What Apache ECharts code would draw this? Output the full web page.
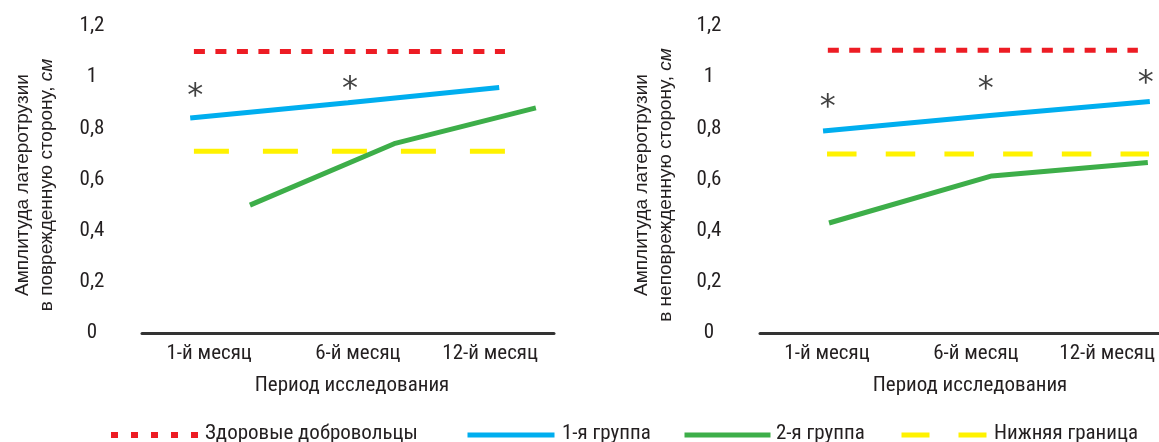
<!DOCTYPE html>
<html>
<head>
<meta charset="utf-8">
<script src="https://cdn.jsdelivr.net/npm/echarts@6/dist/echarts.min.js"></script>
<style>
html,body{margin:0;padding:0;background:#fff;}
#c{width:1159px;height:442px;}
</style>
</head>
<body>
<div id="c"></div>
<script>
// ---- data ----
const categories = ['1-й месяц', '6-й месяц', '12-й месяц'];
const catPosLeft = [16.3, 52.4, 84.5];
const catPosRight = [16.8, 54.1, 87.0];
const seriesNames = ['Здоровые добровольцы', '1-я группа', '2-я группа', 'Нижняя граница'];

const leftHealthyX = [12.6, 88.1];
const leftHealthyY = [1.1, 1.1];
const leftLowerX = [12.6, 88.1];
const leftLowerY = [0.71, 0.71];
const leftGroup1X = [11.7, 50, 86.7];
const leftGroup1Y = [0.84, 0.9, 0.96];
const leftGroup2X = [26.2, 61.2, 95.6];
const leftGroup2Y = [0.5, 0.74, 0.88];
const leftStarX = [12.9, 50.5];
const leftStarY = [0.95, 0.98];

const rightHealthyX = [17.0, 94.7];
const rightHealthyY = [1.105, 1.105];
const rightLowerX = [16.8, 97.5];
const rightLowerY = [0.7, 0.7];
const rightGroup1X = [15.8, 57.6, 97.7];
const rightGroup1Y = [0.79, 0.85, 0.905];
const rightGroup2X = [17.3, 58.1, 97.2];
const rightGroup2Y = [0.43, 0.614, 0.666];
const rightStarX = [17.0, 56.6, 96.7];
const rightStarY = [0.91, 0.98, 1.0];

// ---- styles ----
const COND = '"Roboto Condensed", "DejaVu Sans Condensed", sans-serif';
const SANS = '"Liberation Sans", Arial, sans-serif';
const TXT = '#231f20';
const RED = '#ed1c24', BLUE = '#00aeef', GREEN = '#3dae49', YELLOW = '#fff200';

function pairs(xs, ys) { return xs.map((x, i) => [x, ys[i]]); }
function fmtY(v) { return String(+v.toFixed(1)).replace('.', ','); }

function xAxis(gridIndex, pos, namePad) {
  return {
    type: 'value', gridIndex, min: 0, max: 100,
    axisLine: { show: true, lineStyle: { color: '#333', width: 3 } },
    axisTick: { show: false }, splitLine: { show: false },
    axisLabel: {
      customValues: pos, margin: 10, color: TXT, fontFamily: COND, fontSize: 21,
      formatter: v => { const i = pos.indexOf(v); return i >= 0 ? categories[i] : ''; }
    },
    name: 'Период исследования', nameLocation: 'middle', nameGap: 42,
    nameTextStyle: { color: TXT, fontFamily: COND, fontSize: 21, padding: namePad }
  };
}
function yAxis(gridIndex, line2, gap, margin) {
  return {
    type: 'value', gridIndex, min: 0, max: 1.2, interval: 0.2,
    axisLine: { show: false }, axisTick: { show: false }, splitLine: { show: false },
    axisLabel: { margin, align: 'center', color: TXT, fontFamily: COND, fontSize: 21, formatter: fmtY },
    name: '{t|Амплитуда латеротрузии}\n{t|' + line2 + '}{i|см}',
    nameLocation: 'middle', nameRotate: 90, nameGap: gap,
    nameTextStyle: {
      padding: [0, 11, 0, 0],
      rich: {
        t: { fontFamily: SANS, fontSize: 19, color: TXT, lineHeight: 24 },
        i: { fontFamily: SANS, fontSize: 19, color: TXT, fontStyle: 'italic', lineHeight: 24 }
      }
    }
  };
}
function line(name, idx, data, color, type) {
  return {
    type: 'line', name, xAxisIndex: idx, yAxisIndex: idx, data,
    symbol: 'none', silent: true, clip: false,
    lineStyle: { color, width: 5, type: type || 'solid', cap: 'butt' },
    itemStyle: { color }
  };
}
function stars(idx, data) {
  return {
    type: 'scatter', xAxisIndex: idx, yAxisIndex: idx, data, symbolSize: 1,
    itemStyle: { color: 'rgba(0,0,0,0)' }, silent: true,
    label: { show: true, position: 'inside', formatter: '*', fontFamily: '"DejaVu Sans", sans-serif',
      fontSize: 32, color: '#111', offset: [0, 7] }
  };
}
// legend icons (line samples) without text
function legendIcon(name, left, width, ls) {
  return {
    data: [{ name, lineStyle: ls, itemStyle: { color: 'rgba(0,0,0,0)', borderWidth: 0, opacity: 0 } }],
    left, top: 429, padding: 0, itemWidth: width, itemHeight: 12, selectedMode: false,
    formatter: () => '', textStyle: { fontSize: 1 }
  };
}
// legend labels without icon
function legendText(name, left) {
  return {
    data: [{ name, icon: 'rect', itemStyle: { color: 'rgba(0,0,0,0)', borderWidth: 0, opacity: 0 } }],
    left, top: 423, padding: 0, itemWidth: 0, itemHeight: 12, selectedMode: false,
    textStyle: { fontFamily: COND, fontSize: 21, color: TXT }
  };
}

const option = {
  animation: false,
  backgroundColor: '#fff',
  grid: [
    { left: 142, top: 26, width: 412, height: 307 },
    { left: 760, top: 26, width: 399, height: 307 }
  ],
  xAxis: [xAxis(0, catPosLeft, [0, 0, 0, 8]), xAxis(1, catPosRight, [0, 0, 0, 21])],
  yAxis: [
    yAxis(0, 'в поврежденную сторону, ', 83, 50),
    yAxis(1, 'в неповрежденную сторону, ', 82, 51)
  ],
  legend: [
    legendIcon(seriesNames[0], 108, 88, { color: RED, width: 6, type: [7, 13] }),
    legendIcon(seriesNames[1], 465, 87, { color: BLUE, width: 5, type: 'solid' }),
    legendIcon(seriesNames[2], 682, 86, { color: GREEN, width: 5, type: 'solid' }),
    legendIcon(seriesNames[3], 899, 87, { color: YELLOW, width: 5, type: [28, 29] }),
    legendText(seriesNames[0], 200),
    legendText(seriesNames[1], 557),
    legendText(seriesNames[2], 771),
    legendText(seriesNames[3], 989)
  ],
  series: [
    line(seriesNames[0], 0, pairs(leftHealthyX, leftHealthyY), RED, [11, 10.5]),
    line(seriesNames[3], 0, pairs(leftLowerX, leftLowerY), YELLOW, [35, 34]),
    line(seriesNames[1], 0, pairs(leftGroup1X, leftGroup1Y), BLUE),
    line(seriesNames[2], 0, pairs(leftGroup2X, leftGroup2Y), GREEN),
    stars(0, pairs(leftStarX, leftStarY)),
    line(seriesNames[0], 1, pairs(rightHealthyX, rightHealthyY), RED, [11, 10.4]),
    line(seriesNames[3], 1, pairs(rightLowerX, rightLowerY), YELLOW, [29.5, 29.2]),
    line(seriesNames[1], 1, pairs(rightGroup1X, rightGroup1Y), BLUE),
    line(seriesNames[2], 1, pairs(rightGroup2X, rightGroup2Y), GREEN),
    stars(1, pairs(rightStarX, rightStarY))
  ]
};
echarts.init(document.getElementById('c'), null, { renderer: 'canvas' }).setOption(option);
</script>
</body>
</html>
